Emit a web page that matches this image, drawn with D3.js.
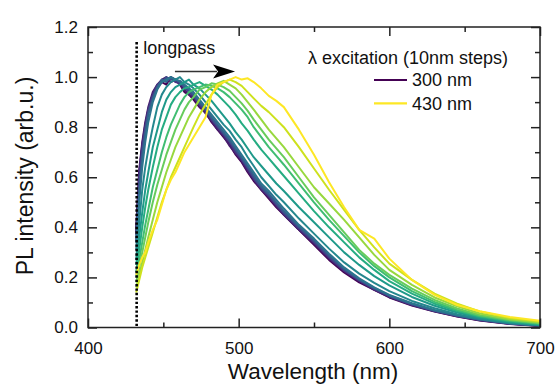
<!DOCTYPE html>
<html>
<head>
<meta charset="utf-8">
<script src="https://cdn.jsdelivr.net/npm/d3@7"></script>
<style>
  html, body { margin: 0; padding: 0; background: #fff; }
  svg { display: block; }
  text { font-family: "Liberation Sans", Arial, Helvetica, sans-serif; fill: #111; }
</style>
</head>
<body>
<svg id="chart" width="558" height="385"></svg>
<script>
// ---------- data ----------
const wavelengths = [432, 434, 436, 438, 440, 443, 446, 449, 452, 455, 458, 461, 464, 467, 470, 474, 478, 482, 486, 490, 494, 498, 502, 506, 510, 515, 520, 525, 530, 540, 550, 560, 570, 580, 590, 600, 615, 630, 645, 660, 680, 700];

const excitations = [300, 310, 320, 330, 340, 350, 360, 370, 380, 390, 400, 410, 420, 430];

const pl300 = [0.38, 0.62, 0.73, 0.81, 0.87, 0.93, 0.96, 0.98, 0.97, 1.00, 0.99, 0.97, 0.94, 0.93, 0.91, 0.88, 0.86, 0.82, 0.79, 0.76, 0.73, 0.69, 0.66, 0.62, 0.585, 0.55, 0.515, 0.48, 0.45, 0.39, 0.33, 0.27, 0.22, 0.18, 0.15, 0.12, 0.088, 0.064, 0.044, 0.028, 0.014, 0.006];
const pl310 = [0.40, 0.63, 0.74, 0.82, 0.88, 0.94, 0.97, 0.99, 1.00, 0.98, 0.99, 0.97, 0.95, 0.93, 0.92, 0.885, 0.855, 0.825, 0.79, 0.765, 0.725, 0.695, 0.665, 0.625, 0.59, 0.55, 0.52, 0.485, 0.45, 0.39, 0.335, 0.275, 0.225, 0.185, 0.15, 0.122, 0.09, 0.065, 0.045, 0.029, 0.015, 0.007];
const pl320 = [0.37, 0.60, 0.72, 0.80, 0.87, 0.93, 0.97, 0.98, 0.99, 1.00, 0.98, 0.975, 0.96, 0.94, 0.925, 0.89, 0.865, 0.83, 0.80, 0.77, 0.74, 0.70, 0.67, 0.635, 0.595, 0.555, 0.525, 0.49, 0.455, 0.395, 0.34, 0.28, 0.228, 0.188, 0.153, 0.124, 0.091, 0.066, 0.046, 0.03, 0.015, 0.007];
const pl330 = [0.35, 0.57, 0.70, 0.79, 0.86, 0.92, 0.96, 0.98, 1.00, 0.99, 0.99, 0.98, 0.96, 0.945, 0.93, 0.895, 0.87, 0.835, 0.805, 0.775, 0.745, 0.71, 0.675, 0.64, 0.60, 0.56, 0.53, 0.495, 0.46, 0.40, 0.345, 0.285, 0.232, 0.19, 0.155, 0.126, 0.093, 0.067, 0.047, 0.031, 0.016, 0.008];
const pl340 = [0.34, 0.54, 0.68, 0.77, 0.85, 0.91, 0.96, 0.99, 0.98, 1.00, 0.99, 0.98, 0.965, 0.95, 0.93, 0.90, 0.875, 0.84, 0.81, 0.78, 0.75, 0.715, 0.68, 0.645, 0.61, 0.565, 0.535, 0.50, 0.465, 0.405, 0.35, 0.29, 0.236, 0.193, 0.158, 0.128, 0.095, 0.068, 0.048, 0.032, 0.016, 0.008];
const pl350 = [0.31, 0.50, 0.64, 0.74, 0.82, 0.90, 0.95, 0.98, 0.99, 1.00, 0.99, 0.985, 0.97, 0.955, 0.94, 0.91, 0.88, 0.85, 0.82, 0.79, 0.76, 0.725, 0.69, 0.655, 0.62, 0.575, 0.545, 0.51, 0.475, 0.41, 0.355, 0.295, 0.24, 0.196, 0.16, 0.13, 0.097, 0.07, 0.049, 0.033, 0.017, 0.008];
const pl360 = [0.27, 0.42, 0.55, 0.64, 0.71, 0.80, 0.88, 0.93, 0.96, 0.98, 0.99, 1.00, 0.98, 0.97, 0.955, 0.93, 0.90, 0.87, 0.84, 0.81, 0.785, 0.75, 0.72, 0.68, 0.645, 0.60, 0.565, 0.53, 0.50, 0.435, 0.375, 0.315, 0.26, 0.215, 0.178, 0.145, 0.106, 0.077, 0.053, 0.035, 0.018, 0.009];
const pl370 = [0.25, 0.36, 0.46, 0.55, 0.62, 0.72, 0.79, 0.86, 0.91, 0.94, 0.96, 0.97, 0.98, 0.99, 0.97, 0.955, 0.93, 0.905, 0.875, 0.845, 0.815, 0.78, 0.75, 0.715, 0.68, 0.645, 0.61, 0.575, 0.545, 0.48, 0.42, 0.36, 0.30, 0.25, 0.205, 0.168, 0.122, 0.087, 0.06, 0.039, 0.021, 0.011];
const pl380 = [0.22, 0.31, 0.40, 0.48, 0.55, 0.64, 0.72, 0.79, 0.84, 0.89, 0.92, 0.94, 0.955, 0.96, 0.97, 0.98, 0.965, 0.95, 0.93, 0.905, 0.88, 0.85, 0.815, 0.785, 0.75, 0.71, 0.675, 0.64, 0.605, 0.535, 0.465, 0.40, 0.34, 0.28, 0.23, 0.185, 0.135, 0.095, 0.066, 0.043, 0.024, 0.013];
const pl390 = [0.20, 0.27, 0.34, 0.41, 0.47, 0.56, 0.63, 0.70, 0.76, 0.81, 0.85, 0.89, 0.92, 0.94, 0.95, 0.96, 0.97, 0.965, 0.955, 0.94, 0.92, 0.895, 0.87, 0.84, 0.80, 0.76, 0.72, 0.685, 0.65, 0.575, 0.50, 0.43, 0.365, 0.30, 0.245, 0.20, 0.145, 0.102, 0.07, 0.046, 0.027, 0.015];
const pl400 = [0.18, 0.24, 0.30, 0.36, 0.42, 0.50, 0.57, 0.63, 0.69, 0.74, 0.79, 0.83, 0.87, 0.90, 0.92, 0.95, 0.96, 0.975, 0.97, 0.96, 0.945, 0.92, 0.895, 0.865, 0.83, 0.79, 0.75, 0.715, 0.68, 0.60, 0.52, 0.45, 0.38, 0.31, 0.255, 0.21, 0.155, 0.11, 0.076, 0.05, 0.03, 0.017];
const pl410 = [0.16, 0.21, 0.26, 0.31, 0.36, 0.43, 0.50, 0.56, 0.62, 0.67, 0.72, 0.76, 0.80, 0.84, 0.87, 0.91, 0.94, 0.96, 0.975, 0.985, 0.97, 0.955, 0.93, 0.90, 0.87, 0.83, 0.79, 0.755, 0.72, 0.64, 0.56, 0.495, 0.43, 0.36, 0.29, 0.23, 0.17, 0.12, 0.085, 0.056, 0.033, 0.02];
const pl420 = [0.14, 0.19, 0.24, 0.28, 0.32, 0.38, 0.44, 0.50, 0.55, 0.60, 0.64, 0.68, 0.72, 0.76, 0.80, 0.85, 0.89, 0.93, 0.96, 0.98, 0.99, 0.98, 0.965, 0.94, 0.915, 0.885, 0.86, 0.83, 0.80, 0.72, 0.635, 0.55, 0.47, 0.39, 0.32, 0.255, 0.19, 0.135, 0.095, 0.064, 0.038, 0.024];
const pl430 = [0.21, 0.25, 0.28, 0.30, 0.34, 0.39, 0.43, 0.49, 0.55, 0.59, 0.62, 0.66, 0.70, 0.73, 0.76, 0.80, 0.84, 0.93, 0.97, 0.98, 0.99, 1.00, 0.99, 0.995, 0.98, 0.955, 0.925, 0.905, 0.88, 0.79, 0.69, 0.58, 0.48, 0.39, 0.355, 0.275, 0.19, 0.13, 0.09, 0.065, 0.042, 0.027];

const spectra = [pl300, pl310, pl320, pl330, pl340, pl350, pl360, pl370, pl380, pl390, pl400, pl410, pl420, pl430];

const xMajorTicks = [400, 500, 600, 700];
const xMinorTicks = [450, 550, 650];
const yMajorTicks = [0.0, 0.2, 0.4, 0.6, 0.8, 1.0, 1.2];
const yMinorTicks = [0.1, 0.3, 0.5, 0.7, 0.9, 1.1];

const longpassWavelength = 432.3;
const legendTitle = "\u03bb excitation (10nm steps)";
const legendEntries = [{ label: "300 nm", index: 0 }, { label: "430 nm", index: 13 }];
const arrowFrom = 457.7, arrowTo = 497.6, arrowLevel = 1.022;

// ---------- layout ----------
const svg = d3.select("#chart");
const mLeft = 88, mRight = 540, mTop = 27, mBottom = 327.5;

const x = d3.scaleLinear().domain([400, 700]).range([mLeft, mRight]);
const y = d3.scaleLinear().domain([0, 1.2]).range([mBottom, mTop]);
const color = i => d3.interpolateViridis(i / (excitations.length - 1));

const axisColor = "#222";
const MAJ = 9, MIN = 5;

// curves
const line = d3.line().x(d => x(d[0])).y(d => y(d[1]));
spectra.forEach((vals, i) => {
  const pts = wavelengths.map((w, j) => [w, vals[j]]);
  svg.append("path")
    .datum(pts)
    .attr("d", line)
    .attr("fill", "none")
    .attr("stroke", color(i))
    .attr("stroke-width", 2)
    .attr("stroke-linejoin", "round");
});

// longpass dotted line
svg.append("line")
  .attr("x1", x(longpassWavelength)).attr("x2", x(longpassWavelength))
  .attr("y1", y(1.14)).attr("y2", y(0))
  .attr("stroke", "#000").attr("stroke-width", 2.6)
  .attr("stroke-dasharray", "2.4,2");

svg.append("text")
  .attr("x", x(436.7)).attr("y", y(1.094))
  .attr("font-size", 18)
  .text("longpass");

// arrow
svg.append("line")
  .attr("x1", x(arrowFrom)).attr("x2", x(arrowTo) - 18)
  .attr("y1", y(arrowLevel)).attr("y2", y(arrowLevel))
  .attr("stroke", "#333").attr("stroke-width", 1.6);
{
  const tx = x(arrowTo), ty = y(arrowLevel);
  svg.append("path")
    .attr("d", `M${tx},${ty} L${tx - 22},${ty - 7} L${tx - 17},${ty} L${tx - 22},${ty + 7} Z`)
    .attr("fill", "#000");
}

// axes (ticks pointing inward)
function addAxis(axisFn, scale, ticks, size, transform, labels) {
  const a = axisFn(scale).tickValues(ticks).tickSizeInner(size).tickSizeOuter(0);
  if (!labels) a.tickFormat("");
  const g = svg.append("g").attr("transform", transform).call(a);
  g.select(".domain").remove();
  g.selectAll(".tick line").attr("stroke", axisColor).attr("stroke-width", 1.5);
  return g;
}

const gxb = addAxis(d3.axisBottom, x, xMajorTicks, -MAJ, `translate(0,${mBottom})`, true);
gxb.selectAll(".tick text").attr("y", 14).attr("dy", "0.71em").attr("font-size", 17)
  .attr("font-family", "'Liberation Sans', Arial, sans-serif").attr("fill", "#111");
addAxis(d3.axisBottom, x, xMinorTicks, -MIN, `translate(0,${mBottom})`, false);
addAxis(d3.axisTop, x, xMajorTicks, -MAJ, `translate(0,${mTop})`, false);
addAxis(d3.axisTop, x, xMinorTicks, -MIN, `translate(0,${mTop})`, false);

const gyl = addAxis(d3.axisLeft, y, yMajorTicks, -MAJ, `translate(${mLeft},0)`, true);
gyl.selectAll(".tick text")
  .attr("x", -10).attr("font-size", 17)
  .attr("font-family", "'Liberation Sans', Arial, sans-serif").attr("fill", "#111")
  .text(d => d3.format(".1f")(d));
addAxis(d3.axisLeft, y, yMinorTicks, -MIN, `translate(${mLeft},0)`, false);
addAxis(d3.axisRight, y, yMajorTicks, -MAJ, `translate(${mRight},0)`, false);
addAxis(d3.axisRight, y, yMinorTicks, -MIN, `translate(${mRight},0)`, false);

// frame
svg.append("rect")
  .attr("x", mLeft).attr("y", mTop)
  .attr("width", mRight - mLeft).attr("height", mBottom - mTop)
  .attr("fill", "none").attr("stroke", axisColor).attr("stroke-width", 1.5);

// axis titles
svg.append("text")
  .attr("x", 313).attr("y", 379)
  .attr("text-anchor", "middle").attr("font-size", 22.5)
  .text("Wavelength (nm)");
svg.append("text")
  .attr("transform", `translate(33,176) rotate(-90)`)
  .attr("text-anchor", "middle").attr("font-size", 23)
  .text("PL intensity (arb.u.)");

// legend
svg.append("text")
  .attr("x", 308).attr("y", 64)
  .attr("font-size", 18)
  .text(legendTitle);
legendEntries.forEach((e, k) => {
  const ly = 80 + k * 23.3;
  svg.append("line")
    .attr("x1", 374).attr("x2", 407).attr("y1", ly).attr("y2", ly)
    .attr("stroke", color(e.index)).attr("stroke-width", 2.2);
  svg.append("text")
    .attr("x", 412).attr("y", ly).attr("dy", "0.35em")
    .attr("font-size", 18)
    .text(e.label);
});
</script>
</body>
</html>
